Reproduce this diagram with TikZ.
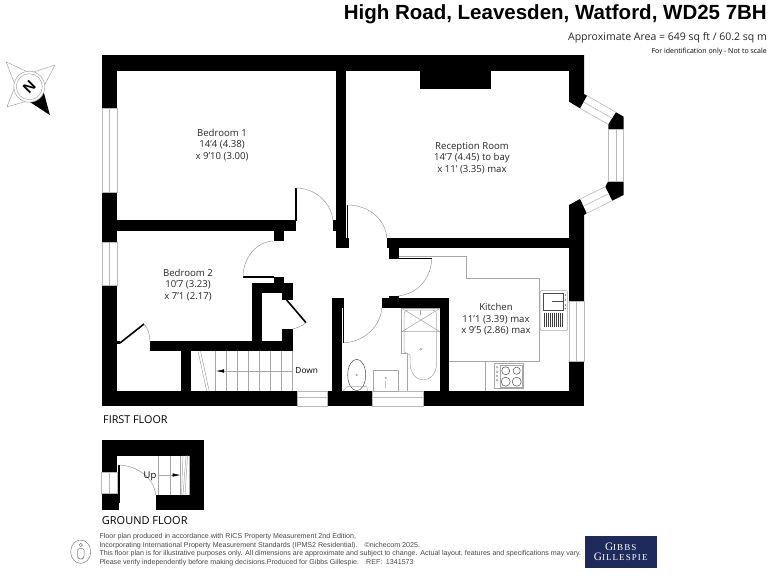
\documentclass[tikz,border=0pt]{standalone}
\usepackage{fontspec}
\setmainfont{Open Sans}
\newfontfamily\headfont{Liberation Sans}
\newfontfamily\logofont[LetterSpace=12]{Liberation Serif}
\usetikzlibrary{arrows.meta}
\definecolor{logoblue}{RGB}{31, 42, 92}
\definecolor{textgrey}{RGB}{70, 70, 70}
\tikzset{
  wall/.style={fill=black},
  glass/.style={draw=gray!55, line width=0.6pt},
  fitting/.style={draw=gray!70, line width=0.5pt},
  leaf/.style={draw=black, line width=1.6pt},
  swing/.style={draw=gray!80, line width=0.5pt},
  room/.style={font=\fontsize{9.6}{11.5}\selectfont, align=center, text=black!85},
  small/.style={font=\headfont\fontsize{7.1}{8}\selectfont, text=textgrey, anchor=west, inner sep=0pt}
}
\begin{document}
\begin{tikzpicture}[x=1pt, y=-1pt]
  \useasboundingbox (0,0) rectangle (768,576);

  % Heading
  \node[font=\headfont\bfseries\fontsize{20.5}{24}\selectfont, anchor=east, inner sep=0pt] (title) at (767,14.5) {High Road, Leavesden, Watford, WD25 7BH};
  \node[font=\fontsize{10.5}{12}\selectfont, anchor=east, inner sep=0pt, text=black!85] (area) at (767,38) {Approximate Area = 649 sq ft / 60.2 sq m};
  \node[font=\fontsize{7}{8}\selectfont, anchor=east, inner sep=0pt] (scale) at (767,52) {For identification only - Not to scale};

  % Compass
  \begin{scope}[shift={(29.3,86.7)}]
    \foreach \ang/\len in {227/34, 320/33.6, 138/30} {
      \draw[fitting] (\ang:\len) -- (\ang+33:15.5) (\ang:\len) -- (\ang-33:15.5);
    }
    \fill[black] (54:35) -- (21:15.5) -- (87:15.5) -- cycle;
    \draw[fill=white, fitting] (0,0) circle (15.5);
    \draw[fitting] (0,0) circle (13);
    \node[font=\headfont\bfseries\fontsize{15}{16}\selectfont, rotate=45, inner sep=0pt] (north) at (0,0) {N};
  \end{scope}

  % First floor walls
  \fill[wall] (102,55) rectangle (584,70.5);
  \fill[wall] (102,55) rectangle (117,108);
  \fill[wall] (102,192) rectangle (117,242);
  \fill[wall] (102,285) rectangle (117,406);
  \fill[wall] (102,391) rectangle (297,406);
  \fill[wall] (327,391) rectangle (372,406);
  \fill[wall] (423,391) rectangle (584,406);
  % partitions
  \fill[wall] (117,220) rectangle (296,230.5);
  \fill[wall] (274,230) rectangle (284,240.5);
  \fill[wall] (336,70) rectangle (346,248);
  \fill[wall] (332.7,220) rectangle (336,230.7);
  \fill[wall] (336,238) rectangle (349,247.7);
  \fill[wall] (386.5,237.7) rectangle (569,247.7);
  \fill[wall] (389.3,237.7) rectangle (399.3,259);
  \fill[wall] (420,70) rectangle (491.3,89.3);
  % cupboard and stairs
  \fill[wall] (274,276.7) rectangle (284,284);
  \fill[wall] (251.7,283.3) rectangle (292.7,293.3);
  \fill[wall] (282.3,283.3) rectangle (292.7,300);
  \fill[wall] (251.7,283.3) rectangle (262.3,345);
  \fill[wall] (282.3,329.3) rectangle (292.7,351);
  \fill[wall] (150,341) rectangle (292.7,351);
  \fill[wall] (181,341) rectangle (190.7,391);
  \fill[wall] (117,341) rectangle (120,344);
  % bathroom
  \fill[wall] (332,298.3) rectangle (344,307.7);
  \fill[wall] (332,298.3) rectangle (342,391);
  \fill[wall] (381.7,298.3) rectangle (449.3,307.7);
  \fill[wall] (389.3,296) rectangle (399.3,299);
  \fill[wall] (440,298.3) rectangle (449.3,391);
  % right side with bay
  \fill[wall] (584,55) -- (584,94) -- (587,95.7) -- (580,108.3) -- (569,101.7) -- (569,55) -- cycle;
  \fill[wall] (616,112.3) -- (623.7,116.7) -- (623.7,129.3) -- (608.3,129.3) -- (608.3,124.3) -- cycle;
  \fill[wall] (608.3,181) -- (623.7,181) -- (623.7,195) -- (612.3,200.7) -- (605.3,186.7) -- cycle;
  \fill[wall] (569,205) -- (580,199) -- (586.7,213.3) -- (584,215) -- (584,301) -- (569,301) -- cycle;
  \fill[wall] (569,361) rectangle (584,406);

  % Windows and openings
  \draw[glass] (102,108) rectangle (117,192) (109.5,108) -- (109.5,192);
  \draw[glass] (102,242) rectangle (117,285) (109.5,242) -- (109.5,285);
  \draw[glass] (608.3,129.3) rectangle (623.7,181) (616.5,129.3) -- (616.5,181);
  \draw[glass] (587,95.7) -- (616,112.3) (580,108.3) -- (608.3,124.3) (583.5,102) -- (612.2,118.3);
  \draw[glass] (605.3,186.7) -- (580,199) (612.3,200.7) -- (586.7,213.3) (608.8,193.7) -- (583.3,206.2);
  \draw[glass] (569,301) rectangle (584,361) (576,301) -- (576,361);
  \draw[glass] (297,391) rectangle (327,406) (297,397.7) -- (327,397.7);
  \draw[glass] (372,391) rectangle (423,406) (372,397.7) -- (423,397.7);

  % Doors
  \draw[leaf] (296,188) -- (296,221);
  \draw[swing] (296,188) .. controls (316,188) and (332,204) .. (333,221);
  \draw[leaf] (243,277) -- (274,277);
  \draw[swing] (273,241) .. controls (256,242) and (243,258) .. (243,277);
  \draw[leaf] (120,343) -- (144,324);
  \draw[swing] (144,324) .. controls (148,328) and (150,335) .. (150,342);
  \draw[leaf] (286.7,300) -- (306,322.7);
  \draw[swing] (306,322.7) .. controls (302,326) and (297,328) .. (292.7,329);
  \draw[leaf, line width=1pt] (347.5,205) -- (347.5,239);
  \draw[swing] (347.5,205) .. controls (369,205) and (386,220) .. (386.7,238);
  \draw[leaf, line width=1.2pt] (399,258.7) -- (431.7,258.7);
  \draw[swing] (431.7,259) .. controls (431,279) and (417,294) .. (398,296);
  \draw[leaf, line width=1pt] (343.5,307) -- (343.5,342.7);
  \draw[swing] (344,342.7) .. controls (364,342) and (381,326) .. (381.7,307.7);

  % Stairs down
  \foreach \sx in {215.3,226.7,237.7,248.7,259.7,270.7,281.7,292.7} {
    \draw[fitting] (\sx,351) -- (\sx,391);
  }
  \draw[fitting] (198,351) -- (206.7,391) (200.5,351) -- (209.2,391);
  \draw[fitting, -{Latex[black, length=8pt, width=3.5pt]}] (292.7,371) -- (216,371);
  \node[font=\fontsize{8.3}{10}\selectfont, inner sep=0pt] (down) at (306.7,370.7) {Down};

  % Kitchen fittings
  \draw[fitting] (399.3,256.7) -- (466.7,256.7) -- (466.7,278.3) -- (539,278.3) -- (539,361) -- (449.3,361);
  \draw[fitting] (485.7,361) -- (485.7,391);
  \draw[fitting] (494,363.7) rectangle (523.3,388.3) (500,365.7) rectangle (522.7,387.7);
  \foreach \hx/\hy/\hr in {505.7/370.7/4, 516.7/370.7/3.6, 505.7/381.7/4.5, 516.7/381.7/4.5} {
    \draw[black!70, line width=0.5pt] (\hx,\hy) circle (\hr);
  }
  \foreach \hy in {367.3,371.7,376,380.3} {
    \draw[fitting] (497,\hy) circle (1);
  }
  \draw[fitting, rounded corners=2pt] (540,290.5) rectangle (567.7,330.7);
  \draw[fitting, draw=black!70] (543.3,293.3) rectangle (563.3,310.7);
  \foreach \bx in {544,546,...,562} {
    \draw[black!75, line width=0.6pt] (\bx,312.7) -- (\bx,327.3);
  }
  \draw[fitting, draw=black!70] (552,301.7) -- (563,301.7);
  \foreach \ky in {295,300,305,308.5} {
    \fill[black!60] (565.3,\ky) circle (0.8);
  }

  % Bathroom fittings
  \draw[fitting] (401.7,308.3) -- (440,308.3) (401.7,308.3) -- (401.7,353.3) -- (407.7,353.3) -- (407.7,391);
  \draw[fitting] (401.7,308.3) -- (440,331.7) (440,308.3) -- (401.7,331.7) (401.7,331.7) -- (440,331.7);
  \draw[fitting, rounded corners=4pt] (404,351.7) -- (404,310) -- (436.7,310) -- (436.7,362);
  \draw[fitting] (436.7,362) .. controls (436.7,386) and (410,386) .. (410,362) -- (410,355) -- (404,351.7);
  \draw[fitting] (420.7,349.3) circle (1);
  \draw[fitting] (420.7,310) -- (420.7,315);
  \draw[fitting, draw=black!70] (356.7,375) ellipse (9 and 15.7);
  \draw[fitting] (343.3,391) -- (346.7,386.7) -- (366.7,386.7) -- (367.7,391);
  \draw[fitting] (356.7,375) circle (0.8);
  \draw[fitting] (373.3,370) rectangle (398.3,391);
  \draw[fitting] (385.7,378) circle (0.8) (385.7,381) -- (385.7,388);

  % Room labels
  \node[room] (bedone) at (222,145) {Bedroom 1\\14'4 (4.38)\\x 9'10 (3.00)};
  \node[room] (reception) at (472,158) {Reception Room\\14'7 (4.45) to bay\\x 11' (3.35) max};
  \node[room] (bedtwo) at (188,285) {Bedroom 2\\10'7 (3.23)\\x 7'1 (2.17)};
  \node[room] (kitchen) at (496,319.5) {Kitchen\\11'1 (3.39) max\\x 9'5 (2.86) max};
  \node[font=\fontsize{10.8}{13}\selectfont, anchor=west, inner sep=0pt] (firstfloor) at (103,419.3) {FIRST FLOOR};

  % Ground floor
  \fill[wall] (101.7,440) rectangle (204.3,455.7);
  \fill[wall] (101.7,440) rectangle (117.3,472.7);
  \fill[wall] (189,440) rectangle (204.3,510);
  \fill[wall] (101.7,493.3) rectangle (119.3,510);
  \fill[wall] (155.7,495) rectangle (204.3,510);
  \draw[glass] (101.7,472.7) rectangle (117.3,493.3) (109.3,472.7) -- (109.3,493.3);
  \draw[leaf, line width=1.5pt] (119,465) -- (119,503);
  \draw[swing] (119.3,465) .. controls (138,466) and (154,478) .. (155.7,495);
  \foreach \sx in {158.3,170,180.7,189} {
    \draw[fitting] (\sx,455.7) -- (\sx,495);
  }
  \draw[fitting] (183,455.7) -- (181.5,495) (186,455.7) -- (183,495) (187.5,455.7) -- (185,495);
  \draw[fitting, -{Latex[black, length=8pt, width=3.5pt]}] (158.3,475) -- (180.5,475);
  \node[font=\fontsize{9.4}{10}\selectfont, inner sep=0pt] (up) at (150,476) {Up};
  \node[font=\fontsize{11}{13}\selectfont, anchor=west, inner sep=0pt] (groundfloor) at (101.7,520.7) {GROUND FLOOR};

  % Info icon and small print
  \draw[fitting, draw=gray] (80.7,551.7) ellipse (10 and 11.7);
  \draw[fitting, draw=gray] (80.7,545) circle (1.8);
  \draw[fitting, draw=gray, rounded corners=1.5pt] (77.5,557) -- (77.5,548.5) -- (84,548.5) -- (84,557) -- (82.5,559) -- (79,559) -- cycle;
  \node[small] (printa) at (99.3,537) {Floor plan produced in accordance with RICS Property Measurement 2nd Edition,};
  \node[small] (printb) at (99.3,545.7) {Incorporating International Property Measurement Standards (IPMS2 Residential).\quad ©nichecom 2025.};
  \node[small] (printc) at (99.3,554) {This floor plan is for illustrative purposes only. All dimensions are approximate and subject to change. Actual layout, features and specifications may vary.};
  \node[small] (printd) at (99.3,562.7) {Please verify independently before making decisions.Produced for Gibbs Gillespie.\quad REF:\enspace 1341573};

  % Logo
  \fill[logoblue] (585,536) rectangle (656.7,567.7);
  \node[text=white, font=\logofont\fontsize{11.3}{9.8}\selectfont, align=center, inner sep=0pt] (logo) at (620.7,551.8) {G{\fontsize{9}{9.8}\selectfont IBBS}\\G{\fontsize{9}{9.8}\selectfont ILLESPIE}};
\end{tikzpicture}
\end{document}
